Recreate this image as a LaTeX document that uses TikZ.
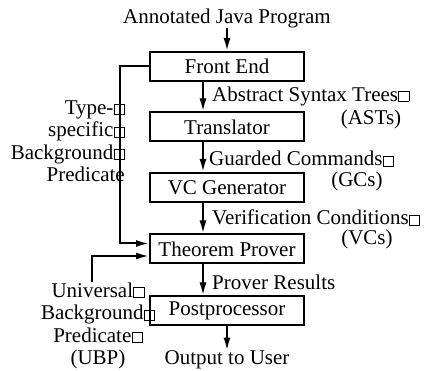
\documentclass[tikz,border=0pt]{standalone}
\usepackage{fontspec}
\setmainfont{Liberation Serif}
\usetikzlibrary{arrows.meta}
\newcommand\qbox{\kern0.3pt{\fboxsep=0pt\fboxrule=0.8pt\fbox{\vrule height0.45em width0pt depth0pt\hbox to 0.45em{}}}}
\begin{document}
\begin{tikzpicture}[x=1pt,y=-1pt,
  every node/.style={font=\fontsize{21}{22.5}\selectfont, inner sep=0pt},
  stage/.style={draw, line width=2pt, minimum width=154pt, minimum height=29pt},
  flow/.style={line width=2pt, -{Latex[length=13pt,width=7pt]}}]
\useasboundingbox (0,0) rectangle (429,371);
\node[stage] (fe) at (227,66.5) {Front End};
\node[stage] (tr) at (227,127) {Translator};
\node[stage] (vg) at (227,187.5) {VC Generator};
\node[stage] (tp) at (227,249) {Theorem Prover};
\node[stage] (po) at (227,311) {Postprocessor};
\node (in) at (227,18) {Annotated Java Program};
\node (out) at (227,360) {Output to User};
\node[anchor=west] (ast) at (212,96) {Abstract Syntax Trees\qbox};
\node (asts) at (371,119) {(ASTs)};
\node[anchor=west] (gc) at (209,159) {Guarded Commands\qbox};
\node (gcs) at (357,181) {(GCs)};
\node[anchor=west] (vc) at (212,218) {Verification Conditions\qbox};
\node (vcs) at (367,239) {(VCs)};
\node[anchor=west] (pr) at (212,282) {Prover Results};
\node[align=right, anchor=north east] (tsbp) at (125,100.5) {Type-\qbox\\specific\qbox\\Background\qbox\\Predicate};
\node[align=center, anchor=north] (ubp) at (98,282.5) {Universal\qbox\\Background\qbox\\Predicate\qbox\\(UBP)};
\draw[flow] (in.south) -- (fe.north);
\draw[flow] ([xshift=-24pt]fe.south) -- ([xshift=-24pt]tr.north);
\draw[flow] ([xshift=-24pt]tr.south) -- ([xshift=-24pt]vg.north);
\draw[flow] ([xshift=-24pt]vg.south) -- ([xshift=-24pt]tp.north);
\draw[flow] ([xshift=-24pt]tp.south) -- ([xshift=-24pt]po.north);
\draw[flow] (po.south) -- (out.north);
\draw[flow] (fe.west) -- ++(-29,0) |- ([yshift=5.5pt]tp.west);
\draw[flow] ([xshift=-6pt]ubp.north) |- ([yshift=-7pt]tp.west);
\end{tikzpicture}
\end{document}
